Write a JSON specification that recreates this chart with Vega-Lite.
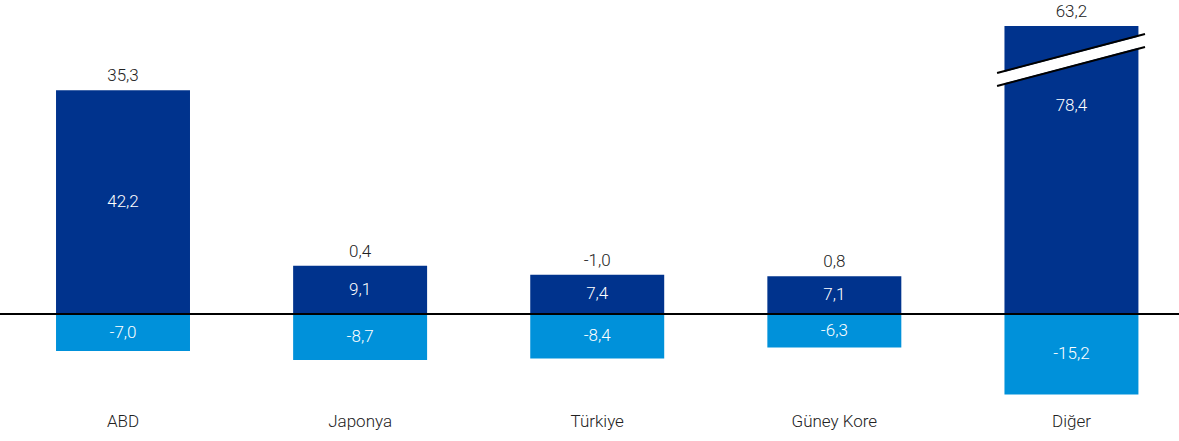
{
  "$schema": "https://vega.github.io/schema/vega-lite/v6.json",
  "width": 1179,
  "height": 379,
  "autosize": {"type": "none"},
  "padding": {"left": 0, "right": 0, "top": 26, "bottom": 36},
  "datasets": {
    "bars": [
      {"land": "ABD", "pos": 42.2, "neg": -7.0, "net": 35.3},
      {"land": "Japonya", "pos": 9.1, "neg": -8.7, "net": 0.4},
      {"land": "Türkiye", "pos": 7.4, "neg": -8.4, "net": -1.0},
      {"land": "Güney Kore", "pos": 7.1, "neg": -6.3, "net": 0.8},
      {"land": "Diğer", "pos": 78.4, "neg": -15.2, "net": 63.2}
    ],
    "brk": [
      {"bx": 3.969, "upper": 45.47, "mid": 44.25, "lower": 43.02},
      {"bx": 4.593, "upper": 52.83, "mid": 51.6, "lower": 50.38}
    ]
  },
  "config": {
    "view": {"stroke": null},
    "font": "Roboto",
    "locale": {"number": {"decimal": ",", "thousands": ".", "grouping": [3], "currency": ["", " €"], "minus": "-"}}
  },
  "resolve": {"scale": {"x": "independent"}},
  "layer": [
    {
      "encoding": {
        "x": {
          "field": "land", "type": "nominal", "sort": null,
          "scale": {"paddingInner": 0.435, "paddingOuter": 0.2037, "align": 0.58},
          "axis": {"title": null, "ticks": false, "domain": false, "grid": false, "labelAngle": 0,
                   "labelFontSize": 17, "labelFontWeight": 300, "labelColor": "#222222", "labelPadding": 8, "labelFont": "Roboto"}
        }
      },
      "layer": [
        {
          "data": {"name": "bars"},
          "mark": {"type": "bar", "color": "#00338D"},
          "encoding": {"y": {"field": "pos", "type": "quantitative", "axis": null,
            "scale": {"domain": [-17.17, 54.34], "nice": false, "zero": false, "clamp": true}}}
        },
        {
          "data": {"name": "bars"},
          "mark": {"type": "bar", "color": "#0091DA"},
          "encoding": {"y": {"field": "neg", "type": "quantitative", "axis": null,
            "scale": {"domain": [-17.17, 54.34], "nice": false, "zero": false, "clamp": true}}}
        },
        {
          "data": {"name": "bars"},
          "mark": {"type": "text", "color": "#ffffff", "fontSize": 17, "fontWeight": 300, "baseline": "middle"},
          "encoding": {
            "y": {"field": "pos", "type": "quantitative", "stack": "zero", "bandPosition": 0.5, "axis": null,
              "scale": {"domain": [-17.17, 54.34], "nice": false, "zero": false, "clamp": true}},
            "text": {"field": "pos", "type": "quantitative", "format": ".1f"}
          }
        },
        {
          "data": {"name": "bars"},
          "mark": {"type": "text", "color": "#ffffff", "fontSize": 17, "fontWeight": 300, "baseline": "middle"},
          "encoding": {
            "y": {"field": "neg", "type": "quantitative", "stack": "zero", "bandPosition": 0.5, "axis": null,
              "scale": {"domain": [-17.17, 54.34], "nice": false, "zero": false, "clamp": true}},
            "text": {"field": "neg", "type": "quantitative", "format": ".1f"}
          }
        },
        {
          "data": {"name": "bars"},
          "mark": {"type": "text", "color": "#222222", "fontSize": 17, "fontWeight": 300, "baseline": "middle", "dy": -14},
          "encoding": {
            "y": {"field": "pos", "type": "quantitative", "axis": null,
              "scale": {"domain": [-17.17, 54.34], "nice": false, "zero": false, "clamp": true}},
            "text": {"field": "net", "type": "quantitative", "format": ".1f"}
          }
        }
      ]
    },
    {
      "data": {"name": "bars"},
      "mark": {"type": "rule", "color": "#000000", "strokeWidth": 2},
      "encoding": {"y": {"datum": 0, "type": "quantitative", "axis": null,
        "scale": {"domain": [-17.17, 54.34], "nice": false, "zero": false, "clamp": true}}}
    },
    {
      "data": {"name": "brk"},
      "encoding": {
        "x": {"field": "bx", "type": "quantitative", "axis": null,
          "scale": {"domain": [-0.2362, 4.7364], "nice": false, "zero": false}}
      },
      "layer": [
        {
          "mark": {"type": "line", "color": "#ffffff", "strokeWidth": 11, "strokeCap": "butt"},
          "encoding": {"y": {"field": "mid", "type": "quantitative", "axis": null,
            "scale": {"domain": [-17.17, 54.34], "nice": false, "zero": false, "clamp": true}}}
        },
        {
          "mark": {"type": "line", "color": "#000000", "strokeWidth": 2, "strokeCap": "butt"},
          "encoding": {"y": {"field": "upper", "type": "quantitative", "axis": null,
            "scale": {"domain": [-17.17, 54.34], "nice": false, "zero": false, "clamp": true}}}
        },
        {
          "mark": {"type": "line", "color": "#000000", "strokeWidth": 2, "strokeCap": "butt"},
          "encoding": {"y": {"field": "lower", "type": "quantitative", "axis": null,
            "scale": {"domain": [-17.17, 54.34], "nice": false, "zero": false, "clamp": true}}}
        }
      ]
    }
  ]
}
